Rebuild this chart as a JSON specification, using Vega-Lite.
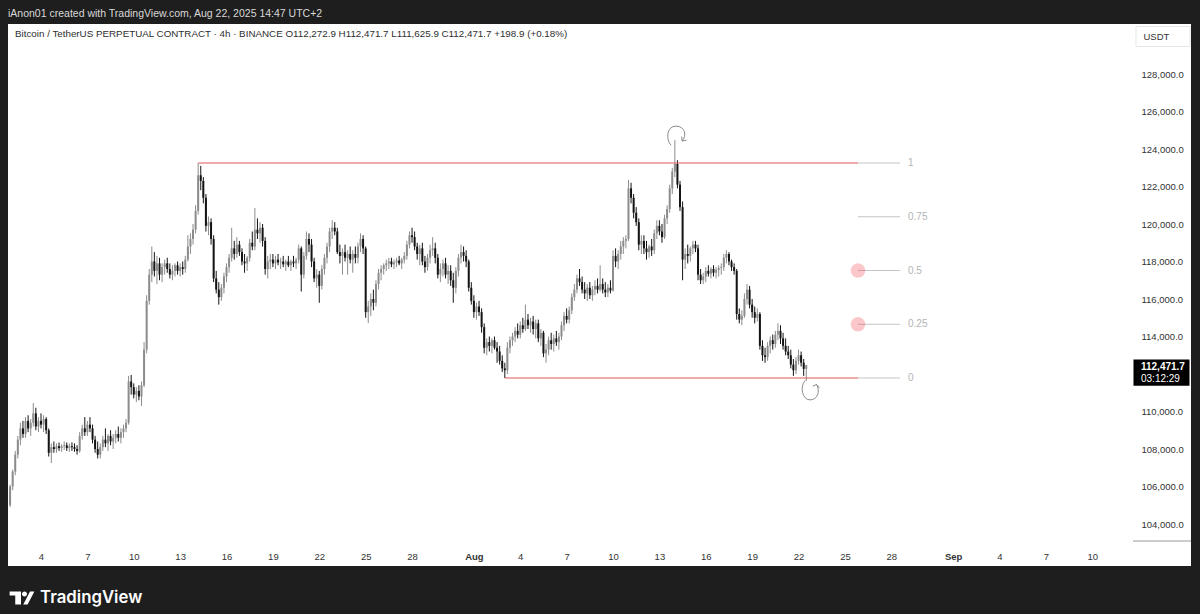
{
"$schema": "https://vega.github.io/schema/vega-lite/v6.json",
"width": 1183,
"height": 542,
"autosize": {"type": "none"},
"padding": {"left": 8, "top": 24, "right": 9, "bottom": 48},
"background": "#1e1e1e",
"config": {"view": {"fill": "#ffffff", "stroke": null}, "font": "Liberation Sans"},
"title": {"text": "iAnon01 created with TradingView.com, Aug 22, 2025 14:47 UTC+2", "anchor": "start", "frame": "group", "offset": 5, "fontSize": 10.5, "fontWeight": "normal", "color": "#d9d9d9", "font": "Liberation Sans"},
"datasets": {
"candles": [
{"t":"2025-07-02T00:00","o":105000,"h":106100,"l":104900,"c":106000},
{"t":"2025-07-02T04:00","o":106000,"h":106900,"l":105800,"c":106800},
{"t":"2025-07-02T08:00","o":106800,"h":107900,"l":106600,"c":107700},
{"t":"2025-07-02T12:00","o":107700,"h":108700,"l":107500,"c":108500},
{"t":"2025-07-02T16:00","o":108500,"h":109400,"l":108200,"c":109100},
{"t":"2025-07-02T20:00","o":109100,"h":109500,"l":108600,"c":108800},
{"t":"2025-07-03T00:00","o":108800,"h":109700,"l":108600,"c":109500},
{"t":"2025-07-03T04:00","o":109500,"h":109800,"l":108900,"c":109100},
{"t":"2025-07-03T08:00","o":109100,"h":109600,"l":108700,"c":109400},
{"t":"2025-07-03T12:00","o":109400,"h":110450,"l":109200,"c":109900},
{"t":"2025-07-03T16:00","o":109900,"h":110200,"l":109000,"c":109200},
{"t":"2025-07-03T20:00","o":109200,"h":109700,"l":108900,"c":109500},
{"t":"2025-07-04T00:00","o":109500,"h":109900,"l":109100,"c":109300},
{"t":"2025-07-04T04:00","o":109300,"h":109800,"l":108900,"c":109600},
{"t":"2025-07-04T08:00","o":109600,"h":109700,"l":108800,"c":109000},
{"t":"2025-07-04T12:00","o":109000,"h":109100,"l":107600,"c":107800},
{"t":"2025-07-04T16:00","o":107800,"h":108300,"l":107250,"c":108100},
{"t":"2025-07-04T20:00","o":108100,"h":108400,"l":107800,"c":108000},
{"t":"2025-07-05T00:00","o":108000,"h":108300,"l":107800,"c":108150},
{"t":"2025-07-05T04:00","o":108150,"h":108350,"l":107900,"c":108050},
{"t":"2025-07-05T08:00","o":108050,"h":108250,"l":107850,"c":108150},
{"t":"2025-07-05T12:00","o":108150,"h":108400,"l":107950,"c":108200},
{"t":"2025-07-05T16:00","o":108200,"h":108350,"l":107900,"c":108050},
{"t":"2025-07-05T20:00","o":108050,"h":108300,"l":107850,"c":108150},
{"t":"2025-07-06T00:00","o":108150,"h":108350,"l":107900,"c":108100},
{"t":"2025-07-06T04:00","o":108100,"h":108300,"l":107850,"c":108000},
{"t":"2025-07-06T08:00","o":108000,"h":108200,"l":107700,"c":107900},
{"t":"2025-07-06T12:00","o":107900,"h":108900,"l":107800,"c":108700},
{"t":"2025-07-06T16:00","o":108700,"h":109300,"l":108500,"c":109100},
{"t":"2025-07-06T20:00","o":109100,"h":109700,"l":108700,"c":108900},
{"t":"2025-07-07T00:00","o":108900,"h":109500,"l":108700,"c":109300},
{"t":"2025-07-07T04:00","o":109300,"h":109700,"l":108900,"c":109100},
{"t":"2025-07-07T08:00","o":109100,"h":109300,"l":108300,"c":108500},
{"t":"2025-07-07T12:00","o":108500,"h":108700,"l":107800,"c":108000},
{"t":"2025-07-07T16:00","o":108000,"h":108400,"l":107500,"c":107700},
{"t":"2025-07-07T20:00","o":107700,"h":108300,"l":107500,"c":108100},
{"t":"2025-07-08T00:00","o":108100,"h":108700,"l":107900,"c":108500},
{"t":"2025-07-08T04:00","o":108500,"h":109100,"l":108100,"c":108300},
{"t":"2025-07-08T08:00","o":108300,"h":108800,"l":107900,"c":108700},
{"t":"2025-07-08T12:00","o":108700,"h":109000,"l":108200,"c":108400},
{"t":"2025-07-08T16:00","o":108400,"h":108800,"l":108000,"c":108600},
{"t":"2025-07-08T20:00","o":108600,"h":109000,"l":108300,"c":108800},
{"t":"2025-07-09T00:00","o":108800,"h":109200,"l":108400,"c":108600},
{"t":"2025-07-09T04:00","o":108600,"h":109100,"l":108300,"c":108900},
{"t":"2025-07-09T08:00","o":108900,"h":109300,"l":108600,"c":109100},
{"t":"2025-07-09T12:00","o":109100,"h":109600,"l":108900,"c":109400},
{"t":"2025-07-09T16:00","o":109400,"h":111900,"l":109300,"c":111600},
{"t":"2025-07-09T20:00","o":111600,"h":111950,"l":110900,"c":111300},
{"t":"2025-07-10T00:00","o":111300,"h":111500,"l":110700,"c":110900},
{"t":"2025-07-10T04:00","o":110900,"h":111300,"l":110500,"c":111100},
{"t":"2025-07-10T08:00","o":111100,"h":111400,"l":110600,"c":110800},
{"t":"2025-07-10T12:00","o":110800,"h":111600,"l":110300,"c":111400},
{"t":"2025-07-10T16:00","o":111400,"h":113700,"l":111300,"c":113300},
{"t":"2025-07-10T20:00","o":113300,"h":116200,"l":113100,"c":115900},
{"t":"2025-07-11T00:00","o":115900,"h":117600,"l":115700,"c":117300},
{"t":"2025-07-11T04:00","o":117300,"h":118800,"l":116900,"c":118000},
{"t":"2025-07-11T08:00","o":118000,"h":118500,"l":117200,"c":117500},
{"t":"2025-07-11T12:00","o":117500,"h":118300,"l":116800,"c":117900},
{"t":"2025-07-11T16:00","o":117900,"h":118200,"l":117000,"c":117300},
{"t":"2025-07-11T20:00","o":117300,"h":117900,"l":116900,"c":117700},
{"t":"2025-07-12T00:00","o":117700,"h":118100,"l":117300,"c":117900},
{"t":"2025-07-12T04:00","o":117900,"h":118200,"l":117400,"c":117600},
{"t":"2025-07-12T08:00","o":117600,"h":117900,"l":117100,"c":117300},
{"t":"2025-07-12T12:00","o":117300,"h":117800,"l":117000,"c":117500},
{"t":"2025-07-12T16:00","o":117500,"h":117900,"l":117200,"c":117800},
{"t":"2025-07-12T20:00","o":117800,"h":118000,"l":117300,"c":117500},
{"t":"2025-07-13T00:00","o":117500,"h":117900,"l":117200,"c":117700},
{"t":"2025-07-13T04:00","o":117700,"h":118000,"l":117300,"c":117600},
{"t":"2025-07-13T08:00","o":117600,"h":118300,"l":117400,"c":118100},
{"t":"2025-07-13T12:00","o":118100,"h":119400,"l":118000,"c":118800},
{"t":"2025-07-13T16:00","o":118800,"h":119500,"l":118400,"c":119200},
{"t":"2025-07-13T20:00","o":119200,"h":120000,"l":118900,"c":119700},
{"t":"2025-07-14T00:00","o":119700,"h":121000,"l":119500,"c":120700},
{"t":"2025-07-14T04:00","o":120700,"h":123250,"l":120500,"c":122600},
{"t":"2025-07-14T08:00","o":122600,"h":123100,"l":121800,"c":122300},
{"t":"2025-07-14T12:00","o":122300,"h":122500,"l":121100,"c":121400},
{"t":"2025-07-14T16:00","o":121400,"h":121600,"l":119600,"c":119900},
{"t":"2025-07-14T20:00","o":119900,"h":120400,"l":119400,"c":120100},
{"t":"2025-07-15T00:00","o":120100,"h":120300,"l":118900,"c":119200},
{"t":"2025-07-15T04:00","o":119200,"h":119400,"l":116900,"c":117100},
{"t":"2025-07-15T08:00","o":117100,"h":117500,"l":116300,"c":116500},
{"t":"2025-07-15T12:00","o":116500,"h":116900,"l":115700,"c":116100},
{"t":"2025-07-15T16:00","o":116100,"h":116800,"l":115900,"c":116600},
{"t":"2025-07-15T20:00","o":116600,"h":117400,"l":116300,"c":117200},
{"t":"2025-07-16T00:00","o":117200,"h":117900,"l":116900,"c":117700},
{"t":"2025-07-16T04:00","o":117700,"h":118400,"l":117400,"c":118200},
{"t":"2025-07-16T08:00","o":118200,"h":119800,"l":118000,"c":118700},
{"t":"2025-07-16T12:00","o":118700,"h":119100,"l":118100,"c":118400},
{"t":"2025-07-16T16:00","o":118400,"h":119300,"l":118200,"c":118900},
{"t":"2025-07-16T20:00","o":118900,"h":119100,"l":118300,"c":118500},
{"t":"2025-07-17T00:00","o":118500,"h":118700,"l":117800,"c":118000},
{"t":"2025-07-17T04:00","o":118000,"h":118400,"l":117400,"c":117900},
{"t":"2025-07-17T08:00","o":117900,"h":118300,"l":117500,"c":118200},
{"t":"2025-07-17T12:00","o":118200,"h":119200,"l":118000,"c":119000},
{"t":"2025-07-17T16:00","o":119000,"h":119600,"l":118600,"c":118800},
{"t":"2025-07-17T20:00","o":118800,"h":120850,"l":118600,"c":119700},
{"t":"2025-07-18T00:00","o":119700,"h":120300,"l":119200,"c":119500},
{"t":"2025-07-18T04:00","o":119500,"h":120100,"l":119000,"c":119800},
{"t":"2025-07-18T08:00","o":119800,"h":120000,"l":118800,"c":119100},
{"t":"2025-07-18T12:00","o":119100,"h":119300,"l":117300,"c":117600},
{"t":"2025-07-18T16:00","o":117600,"h":118300,"l":117100,"c":118000},
{"t":"2025-07-18T20:00","o":118000,"h":118400,"l":117600,"c":118100},
{"t":"2025-07-19T00:00","o":118100,"h":118400,"l":117700,"c":117900},
{"t":"2025-07-19T04:00","o":117900,"h":118300,"l":117600,"c":118100},
{"t":"2025-07-19T08:00","o":118100,"h":118400,"l":117800,"c":117950},
{"t":"2025-07-19T12:00","o":117950,"h":118200,"l":117600,"c":118000},
{"t":"2025-07-19T16:00","o":118000,"h":118300,"l":117700,"c":117850},
{"t":"2025-07-19T20:00","o":117850,"h":118100,"l":117500,"c":118000},
{"t":"2025-07-20T00:00","o":118000,"h":118300,"l":117700,"c":117800},
{"t":"2025-07-20T04:00","o":117800,"h":118100,"l":117500,"c":118000},
{"t":"2025-07-20T08:00","o":118000,"h":118300,"l":117700,"c":117900},
{"t":"2025-07-20T12:00","o":117900,"h":118200,"l":117600,"c":118100},
{"t":"2025-07-20T16:00","o":118100,"h":118900,"l":117900,"c":118700},
{"t":"2025-07-20T20:00","o":118700,"h":118800,"l":116400,"c":117300},
{"t":"2025-07-21T00:00","o":117300,"h":118500,"l":117100,"c":118300},
{"t":"2025-07-21T04:00","o":118300,"h":119600,"l":118100,"c":119200},
{"t":"2025-07-21T08:00","o":119200,"h":119500,"l":118500,"c":118900},
{"t":"2025-07-21T12:00","o":118900,"h":119200,"l":117700,"c":118000},
{"t":"2025-07-21T16:00","o":118000,"h":118200,"l":116900,"c":117100},
{"t":"2025-07-21T20:00","o":117100,"h":117600,"l":116600,"c":117300},
{"t":"2025-07-22T00:00","o":117300,"h":117500,"l":115800,"c":116700},
{"t":"2025-07-22T04:00","o":116700,"h":117800,"l":116500,"c":117600},
{"t":"2025-07-22T08:00","o":117600,"h":118400,"l":117300,"c":118200},
{"t":"2025-07-22T12:00","o":118200,"h":119000,"l":117900,"c":118800},
{"t":"2025-07-22T16:00","o":118800,"h":119800,"l":118500,"c":119600},
{"t":"2025-07-22T20:00","o":119600,"h":120200,"l":119200,"c":119800},
{"t":"2025-07-23T00:00","o":119800,"h":120100,"l":119400,"c":119600},
{"t":"2025-07-23T04:00","o":119600,"h":119800,"l":118400,"c":118500},
{"t":"2025-07-23T08:00","o":118500,"h":118900,"l":117900,"c":118300},
{"t":"2025-07-23T12:00","o":118300,"h":118700,"l":117300,"c":118500},
{"t":"2025-07-23T16:00","o":118500,"h":118900,"l":118000,"c":118200},
{"t":"2025-07-23T20:00","o":118200,"h":118600,"l":117300,"c":118400},
{"t":"2025-07-24T00:00","o":118400,"h":118800,"l":117900,"c":118100},
{"t":"2025-07-24T04:00","o":118100,"h":118600,"l":117400,"c":118400},
{"t":"2025-07-24T08:00","o":118400,"h":118800,"l":117900,"c":118200},
{"t":"2025-07-24T12:00","o":118200,"h":119000,"l":117900,"c":118800},
{"t":"2025-07-24T16:00","o":118800,"h":119500,"l":118500,"c":119200},
{"t":"2025-07-24T20:00","o":119200,"h":119400,"l":118400,"c":118700},
{"t":"2025-07-25T00:00","o":118700,"h":118800,"l":115000,"c":115300},
{"t":"2025-07-25T04:00","o":115300,"h":115900,"l":114720,"c":115600},
{"t":"2025-07-25T08:00","o":115600,"h":116300,"l":115100,"c":116000},
{"t":"2025-07-25T12:00","o":116000,"h":116500,"l":115400,"c":115800},
{"t":"2025-07-25T16:00","o":115800,"h":117000,"l":115600,"c":116800},
{"t":"2025-07-25T20:00","o":116800,"h":117600,"l":116500,"c":117400},
{"t":"2025-07-26T00:00","o":117400,"h":117800,"l":117000,"c":117600},
{"t":"2025-07-26T04:00","o":117600,"h":117900,"l":117300,"c":117800},
{"t":"2025-07-26T08:00","o":117800,"h":118100,"l":117500,"c":117900},
{"t":"2025-07-26T12:00","o":117900,"h":118200,"l":117600,"c":118000},
{"t":"2025-07-26T16:00","o":118000,"h":118200,"l":117700,"c":117850},
{"t":"2025-07-26T20:00","o":117850,"h":118100,"l":117600,"c":117950},
{"t":"2025-07-27T00:00","o":117950,"h":118200,"l":117700,"c":118050},
{"t":"2025-07-27T04:00","o":118050,"h":118300,"l":117800,"c":117900},
{"t":"2025-07-27T08:00","o":117900,"h":118200,"l":117600,"c":118100},
{"t":"2025-07-27T12:00","o":118100,"h":118500,"l":117900,"c":118300},
{"t":"2025-07-27T16:00","o":118300,"h":119100,"l":118100,"c":118900},
{"t":"2025-07-27T20:00","o":118900,"h":119600,"l":118700,"c":119400},
{"t":"2025-07-28T00:00","o":119400,"h":119800,"l":119000,"c":119300},
{"t":"2025-07-28T04:00","o":119300,"h":119600,"l":118600,"c":118800},
{"t":"2025-07-28T08:00","o":118800,"h":119000,"l":118100,"c":118400},
{"t":"2025-07-28T12:00","o":118400,"h":118900,"l":117800,"c":118700},
{"t":"2025-07-28T16:00","o":118700,"h":119000,"l":117800,"c":118000},
{"t":"2025-07-28T20:00","o":118000,"h":118300,"l":117400,"c":117700},
{"t":"2025-07-29T00:00","o":117700,"h":118400,"l":117500,"c":118200},
{"t":"2025-07-29T04:00","o":118200,"h":118900,"l":117900,"c":118600},
{"t":"2025-07-29T08:00","o":118600,"h":119300,"l":118300,"c":118700},
{"t":"2025-07-29T12:00","o":118700,"h":119000,"l":117900,"c":118200},
{"t":"2025-07-29T16:00","o":118200,"h":118400,"l":117100,"c":117300},
{"t":"2025-07-29T20:00","o":117300,"h":117900,"l":116900,"c":117600},
{"t":"2025-07-30T00:00","o":117600,"h":118100,"l":117200,"c":117900},
{"t":"2025-07-30T04:00","o":117900,"h":118200,"l":117100,"c":117300},
{"t":"2025-07-30T08:00","o":117300,"h":117800,"l":116800,"c":117500},
{"t":"2025-07-30T12:00","o":117500,"h":117800,"l":116700,"c":117000},
{"t":"2025-07-30T16:00","o":117000,"h":117400,"l":115800,"c":116600},
{"t":"2025-07-30T20:00","o":116600,"h":117700,"l":116300,"c":117500},
{"t":"2025-07-31T00:00","o":117500,"h":118400,"l":117200,"c":118200},
{"t":"2025-07-31T04:00","o":118200,"h":118900,"l":117900,"c":118500},
{"t":"2025-07-31T08:00","o":118500,"h":118800,"l":118000,"c":118300},
{"t":"2025-07-31T12:00","o":118300,"h":118600,"l":117700,"c":118000},
{"t":"2025-07-31T16:00","o":118000,"h":118100,"l":116400,"c":116600},
{"t":"2025-07-31T20:00","o":116600,"h":116900,"l":115700,"c":115900},
{"t":"2025-08-01T00:00","o":115900,"h":116200,"l":115000,"c":115300},
{"t":"2025-08-01T04:00","o":115300,"h":115800,"l":114900,"c":115600},
{"t":"2025-08-01T08:00","o":115600,"h":115900,"l":115100,"c":115300},
{"t":"2025-08-01T12:00","o":115300,"h":115500,"l":114200,"c":114500},
{"t":"2025-08-01T16:00","o":114500,"h":114700,"l":113100,"c":113400},
{"t":"2025-08-01T20:00","o":113400,"h":113900,"l":113000,"c":113700},
{"t":"2025-08-02T00:00","o":113700,"h":114000,"l":113200,"c":113500},
{"t":"2025-08-02T04:00","o":113500,"h":113900,"l":113100,"c":113800},
{"t":"2025-08-02T08:00","o":113800,"h":114000,"l":113300,"c":113400},
{"t":"2025-08-02T12:00","o":113400,"h":113700,"l":112600,"c":113200},
{"t":"2025-08-02T16:00","o":113200,"h":113500,"l":112500,"c":112700},
{"t":"2025-08-02T20:00","o":112700,"h":113000,"l":112100,"c":112300},
{"t":"2025-08-03T00:00","o":112300,"h":112600,"l":111787,"c":112200},
{"t":"2025-08-03T04:00","o":112200,"h":113700,"l":112000,"c":113400},
{"t":"2025-08-03T08:00","o":113400,"h":114000,"l":113100,"c":113800},
{"t":"2025-08-03T12:00","o":113800,"h":114200,"l":113500,"c":114000},
{"t":"2025-08-03T16:00","o":114000,"h":114500,"l":113700,"c":114300},
{"t":"2025-08-03T20:00","o":114300,"h":114700,"l":113900,"c":114100},
{"t":"2025-08-04T00:00","o":114100,"h":114800,"l":113900,"c":114600},
{"t":"2025-08-04T04:00","o":114600,"h":115000,"l":114200,"c":114400},
{"t":"2025-08-04T08:00","o":114400,"h":115700,"l":114300,"c":114900},
{"t":"2025-08-04T12:00","o":114900,"h":115200,"l":114400,"c":114600},
{"t":"2025-08-04T16:00","o":114600,"h":115000,"l":114200,"c":114800},
{"t":"2025-08-04T20:00","o":114800,"h":115100,"l":114100,"c":114400},
{"t":"2025-08-05T00:00","o":114400,"h":114900,"l":113900,"c":114700},
{"t":"2025-08-05T04:00","o":114700,"h":114900,"l":113700,"c":113900},
{"t":"2025-08-05T08:00","o":113900,"h":114400,"l":113500,"c":114200},
{"t":"2025-08-05T12:00","o":114200,"h":114300,"l":112900,"c":113100},
{"t":"2025-08-05T16:00","o":113100,"h":113600,"l":112600,"c":113300},
{"t":"2025-08-05T20:00","o":113300,"h":114000,"l":113000,"c":113800},
{"t":"2025-08-06T00:00","o":113800,"h":114200,"l":113300,"c":113600},
{"t":"2025-08-06T04:00","o":113600,"h":114100,"l":113200,"c":113900},
{"t":"2025-08-06T08:00","o":113900,"h":114300,"l":113500,"c":113700},
{"t":"2025-08-06T12:00","o":113700,"h":114200,"l":113300,"c":114000},
{"t":"2025-08-06T16:00","o":114000,"h":114800,"l":113800,"c":114600},
{"t":"2025-08-06T20:00","o":114600,"h":115300,"l":114300,"c":115100},
{"t":"2025-08-07T00:00","o":115100,"h":115500,"l":114700,"c":114900},
{"t":"2025-08-07T04:00","o":114900,"h":115600,"l":114700,"c":115400},
{"t":"2025-08-07T08:00","o":115400,"h":116300,"l":115200,"c":116100},
{"t":"2025-08-07T12:00","o":116100,"h":116800,"l":115900,"c":116500},
{"t":"2025-08-07T16:00","o":116500,"h":117300,"l":116300,"c":117100},
{"t":"2025-08-07T20:00","o":117100,"h":117600,"l":116700,"c":116900},
{"t":"2025-08-08T00:00","o":116900,"h":117200,"l":116300,"c":116500},
{"t":"2025-08-08T04:00","o":116500,"h":116900,"l":116000,"c":116300},
{"t":"2025-08-08T08:00","o":116300,"h":116800,"l":115900,"c":116600},
{"t":"2025-08-08T12:00","o":116600,"h":116900,"l":116000,"c":116200},
{"t":"2025-08-08T16:00","o":116200,"h":116700,"l":115900,"c":116500},
{"t":"2025-08-08T20:00","o":116500,"h":117000,"l":116200,"c":116700},
{"t":"2025-08-09T00:00","o":116700,"h":117100,"l":116300,"c":116500},
{"t":"2025-08-09T04:00","o":116500,"h":117800,"l":116400,"c":116800},
{"t":"2025-08-09T08:00","o":116800,"h":117100,"l":116300,"c":116500},
{"t":"2025-08-09T12:00","o":116500,"h":116900,"l":116100,"c":116350},
{"t":"2025-08-09T16:00","o":116350,"h":116800,"l":116100,"c":116600},
{"t":"2025-08-09T20:00","o":116600,"h":117000,"l":116300,"c":116450},
{"t":"2025-08-10T00:00","o":116450,"h":118600,"l":116400,"c":118300},
{"t":"2025-08-10T04:00","o":118300,"h":118700,"l":117700,"c":118000},
{"t":"2025-08-10T08:00","o":118000,"h":118600,"l":117600,"c":118400},
{"t":"2025-08-10T12:00","o":118400,"h":119100,"l":118100,"c":118800},
{"t":"2025-08-10T16:00","o":118800,"h":119300,"l":118400,"c":119100},
{"t":"2025-08-10T20:00","o":119100,"h":119400,"l":118700,"c":119200},
{"t":"2025-08-11T00:00","o":119200,"h":122350,"l":119100,"c":121900},
{"t":"2025-08-11T04:00","o":121900,"h":122200,"l":121100,"c":121400},
{"t":"2025-08-11T08:00","o":121400,"h":121600,"l":120300,"c":120600},
{"t":"2025-08-11T12:00","o":120600,"h":120900,"l":119900,"c":120100},
{"t":"2025-08-11T16:00","o":120100,"h":120300,"l":118600,"c":118900},
{"t":"2025-08-11T20:00","o":118900,"h":119400,"l":118400,"c":119100},
{"t":"2025-08-12T00:00","o":119100,"h":119400,"l":118400,"c":118700},
{"t":"2025-08-12T04:00","o":118700,"h":119100,"l":118100,"c":118500},
{"t":"2025-08-12T08:00","o":118500,"h":118900,"l":118200,"c":118800},
{"t":"2025-08-12T12:00","o":118800,"h":119200,"l":118300,"c":118600},
{"t":"2025-08-12T16:00","o":118600,"h":119700,"l":118400,"c":119500},
{"t":"2025-08-12T20:00","o":119500,"h":120200,"l":119200,"c":119900},
{"t":"2025-08-13T00:00","o":119900,"h":120200,"l":119400,"c":119600},
{"t":"2025-08-13T04:00","o":119600,"h":120000,"l":119000,"c":119300},
{"t":"2025-08-13T08:00","o":119300,"h":120500,"l":119200,"c":120300},
{"t":"2025-08-13T12:00","o":120300,"h":121000,"l":120000,"c":120800},
{"t":"2025-08-13T16:00","o":120800,"h":122100,"l":120600,"c":121900},
{"t":"2025-08-13T20:00","o":121900,"h":123000,"l":121600,"c":122800},
{"t":"2025-08-14T00:00","o":122800,"h":124474,"l":122500,"c":123200},
{"t":"2025-08-14T04:00","o":123200,"h":123400,"l":121900,"c":122100},
{"t":"2025-08-14T08:00","o":122100,"h":122300,"l":120700,"c":120900},
{"t":"2025-08-14T12:00","o":120900,"h":121200,"l":117000,"c":118100},
{"t":"2025-08-14T16:00","o":118100,"h":118700,"l":117600,"c":118400},
{"t":"2025-08-14T20:00","o":118400,"h":118900,"l":117900,"c":118300},
{"t":"2025-08-15T00:00","o":118300,"h":118800,"l":118000,"c":118700},
{"t":"2025-08-15T04:00","o":118700,"h":119100,"l":118400,"c":118900},
{"t":"2025-08-15T08:00","o":118900,"h":119100,"l":118500,"c":118700},
{"t":"2025-08-15T12:00","o":118700,"h":118900,"l":117000,"c":117300},
{"t":"2025-08-15T16:00","o":117300,"h":117600,"l":116800,"c":117000},
{"t":"2025-08-15T20:00","o":117000,"h":117400,"l":116800,"c":117200},
{"t":"2025-08-16T00:00","o":117200,"h":117700,"l":116900,"c":117500},
{"t":"2025-08-16T04:00","o":117500,"h":117800,"l":117200,"c":117350},
{"t":"2025-08-16T08:00","o":117350,"h":117700,"l":117100,"c":117600},
{"t":"2025-08-16T12:00","o":117600,"h":117800,"l":117200,"c":117400},
{"t":"2025-08-16T16:00","o":117400,"h":117700,"l":117100,"c":117550},
{"t":"2025-08-16T20:00","o":117550,"h":117800,"l":117200,"c":117650},
{"t":"2025-08-17T00:00","o":117650,"h":117900,"l":117300,"c":117700},
{"t":"2025-08-17T04:00","o":117700,"h":118400,"l":117500,"c":118200},
{"t":"2025-08-17T08:00","o":118200,"h":118600,"l":117900,"c":118400},
{"t":"2025-08-17T12:00","o":118400,"h":118500,"l":117800,"c":118000},
{"t":"2025-08-17T16:00","o":118000,"h":118100,"l":117500,"c":117700},
{"t":"2025-08-17T20:00","o":117700,"h":117900,"l":117300,"c":117500},
{"t":"2025-08-18T00:00","o":117500,"h":117600,"l":114900,"c":115200},
{"t":"2025-08-18T04:00","o":115200,"h":115500,"l":114700,"c":114900},
{"t":"2025-08-18T08:00","o":114900,"h":115400,"l":114600,"c":115100},
{"t":"2025-08-18T12:00","o":115100,"h":116300,"l":115000,"c":116000},
{"t":"2025-08-18T16:00","o":116000,"h":116800,"l":115700,"c":116500},
{"t":"2025-08-18T20:00","o":116500,"h":116700,"l":115500,"c":115700},
{"t":"2025-08-19T00:00","o":115700,"h":116000,"l":115000,"c":115300},
{"t":"2025-08-19T04:00","o":115300,"h":115600,"l":114700,"c":115000},
{"t":"2025-08-19T08:00","o":115000,"h":115500,"l":114800,"c":115200},
{"t":"2025-08-19T12:00","o":115200,"h":115300,"l":113300,"c":113500},
{"t":"2025-08-19T16:00","o":113500,"h":113800,"l":112700,"c":113000},
{"t":"2025-08-19T20:00","o":113000,"h":113400,"l":112600,"c":112900},
{"t":"2025-08-20T00:00","o":112900,"h":113700,"l":112700,"c":113500},
{"t":"2025-08-20T04:00","o":113500,"h":114000,"l":113100,"c":113800},
{"t":"2025-08-20T08:00","o":113800,"h":114100,"l":113300,"c":113600},
{"t":"2025-08-20T12:00","o":113600,"h":114300,"l":113400,"c":114100},
{"t":"2025-08-20T16:00","o":114100,"h":114700,"l":113800,"c":114300},
{"t":"2025-08-20T20:00","o":114300,"h":114600,"l":113600,"c":113900},
{"t":"2025-08-21T00:00","o":113900,"h":114200,"l":113300,"c":113500},
{"t":"2025-08-21T04:00","o":113500,"h":113900,"l":113000,"c":113200},
{"t":"2025-08-21T08:00","o":113200,"h":113500,"l":112800,"c":113000},
{"t":"2025-08-21T12:00","o":113000,"h":113300,"l":112300,"c":112500},
{"t":"2025-08-21T16:00","o":112500,"h":112800,"l":111900,"c":112200},
{"t":"2025-08-21T20:00","o":112200,"h":112900,"l":112000,"c":112700},
{"t":"2025-08-22T00:00","o":112700,"h":113300,"l":112500,"c":113000},
{"t":"2025-08-22T04:00","o":113000,"h":113200,"l":112400,"c":112600},
{"t":"2025-08-22T08:00","o":112600,"h":112800,"l":111900,"c":112273},
{"t":"2025-08-22T12:00","o":112272.9,"h":112471.7,"l":111625.9,"c":112471.7}
],
"fib": [
{"lv":"1","p":123253},
{"lv":"0.75","p":120387},
{"lv":"0.5","p":117520},
{"lv":"0.25","p":114653},
{"lv":"0","p":111787}
],
"range": [
{"from":"2025-07-14T04:00","p":123253},
{"from":"2025-08-03T00:00","p":111787}
]
},
"layer": [
{
"data": {"name": "candles"},
"mark": {"type": "rule", "strokeWidth": 1},
"encoding": {
"x": {"field": "t", "type": "temporal",
"scale": {"domain": [{"year":2025,"month":7,"date":1,"hours":20,"minutes":46},{"year":2025,"month":9,"date":16,"hours":9,"minutes":16}], "nice": false, "padding": 0},
"axis": {"orient": "bottom", "offset": -10, "title": null, "grid": false, "domain": false, "ticks": false, "tickSize": 0, "labelPadding": 0, "labelBaseline": "middle", "labelFontSize": 9.5, "labelColor": "#333333", "labelFont": "Liberation Sans", "labelOverlap": false, "labelFlush": false,
"values": [{"year":2025,"month":7,"date":4},{"year":2025,"month":7,"date":7},{"year":2025,"month":7,"date":10},{"year":2025,"month":7,"date":13},{"year":2025,"month":7,"date":16},{"year":2025,"month":7,"date":19},{"year":2025,"month":7,"date":22},{"year":2025,"month":7,"date":25},{"year":2025,"month":7,"date":28},{"year":2025,"month":8,"date":1},{"year":2025,"month":8,"date":4},{"year":2025,"month":8,"date":7},{"year":2025,"month":8,"date":10},{"year":2025,"month":8,"date":13},{"year":2025,"month":8,"date":16},{"year":2025,"month":8,"date":19},{"year":2025,"month":8,"date":22},{"year":2025,"month":8,"date":25},{"year":2025,"month":8,"date":28},{"year":2025,"month":9,"date":1},{"year":2025,"month":9,"date":4},{"year":2025,"month":9,"date":7},{"year":2025,"month":9,"date":10}],
"labelExpr": "date(datum.value) == 1 ? timeFormat(datum.value, '%b') : '' + date(datum.value)",
"labelFontWeight": {"condition": {"test": "date(datum.value) == 1", "value": "bold"}, "value": "normal"}}},
"y": {"field": "l", "type": "quantitative",
"scale": {"domain": [101760, 130667], "zero": false, "nice": false, "padding": 0},
"axis": {"orient": "right", "offset": -58, "grid": false, "domain": false, "ticks": false, "tickSize": 0, "labelPadding": 8, "labelFontSize": 9.5, "labelColor": "#333333", "labelFont": "Liberation Sans", "format": ",.1f", "labelOverlap": false,
"values": [104000,106000,108000,110000,114000,116000,118000,120000,122000,124000,126000,128000],
"title": "USDT", "titleAngle": 0, "titleX": 10, "titleY": 12.5, "titleAlign": "left", "titleBaseline": "middle", "titleFontWeight": "normal", "titleFontSize": 9.5, "titleColor": "#333333", "titleFont": "Liberation Sans"}},
"y2": {"field": "h"},
"color": {"condition": {"test": "datum.c >= datum.o", "value": "#8c8c8c"}, "value": "#141414"}
}
},
{
"data": {"name": "candles"},
"mark": {"type": "bar", "width": 2},
"encoding": {
"x": {"field": "t", "type": "temporal"},
"y": {"field": "o", "type": "quantitative"},
"y2": {"field": "c"},
"color": {"condition": {"test": "datum.c >= datum.o", "value": "#8c8c8c"}, "value": "#141414"}
}
},
{
"data": {"name": "range"},
"mark": {"type": "rule", "color": "#e05858", "strokeWidth": 1},
"encoding": {
"x": {"field": "from", "type": "temporal"},
"x2": {"datum": {"year":2025,"month":8,"date":25,"hours":20,"minutes":18}},
"y": {"field": "p", "type": "quantitative"}
}
},
{
"data": {"name": "fib"},
"mark": {"type": "rule", "color": "#c4c4c4", "strokeWidth": 1},
"encoding": {
"x": {"datum": {"year":2025,"month":8,"date":25,"hours":20,"minutes":18}},
"x2": {"datum": {"year":2025,"month":8,"date":28,"hours":13,"minutes":30}},
"y": {"field": "p", "type": "quantitative"}
}
},
{
"data": {"name": "fib"},
"mark": {"type": "text", "align": "left", "baseline": "middle", "fontSize": 10, "color": "#b4b4b4", "font": "Liberation Sans"},
"encoding": {
"x": {"datum": {"year":2025,"month":8,"date":29,"hours":1,"minutes":55}},
"y": {"field": "p", "type": "quantitative"},
"text": {"field": "lv"}
}
},
{
"data": {"name": "fib"},
"transform": [{"filter": "datum.lv == '0.5' || datum.lv == '0.25'"}],
"mark": {"type": "point", "shape": "circle", "filled": true, "size": 210, "color": "#f23645", "opacity": 0.28},
"encoding": {
"x": {"datum": {"year":2025,"month":8,"date":25,"hours":20,"minutes":18}},
"y": {"field": "p", "type": "quantitative"}
}
},
{
"data": {"values": [{"p": 124693}]},
"mark": {"type": "point", "filled": false, "stroke": "#8a8a8a", "strokeWidth": 1, "size": 484, "opacity": 1,
"shape": "M-0.45,0.85C-0.95,0.3,-0.85,-0.9,0,-0.9C0.85,-0.9,1,0,0.55,0.45M0.55,0.45L0.95,0.38M0.55,0.45L0.52,0.05"},
"encoding": {
"x": {"datum": {"year":2025,"month":8,"date":14,"hours":1,"minutes":47}},
"y": {"field": "p", "type": "quantitative"}
}
},
{
"data": {"values": [{"p": 111147}]},
"mark": {"type": "point", "filled": false, "stroke": "#8a8a8a", "strokeWidth": 1, "size": 484, "opacity": 1,
"shape": "M-0.45,-0.85C-0.95,-0.3,-0.7,0.9,0,0.9C0.7,0.9,0.95,0.1,0.6,-0.5M0.6,-0.5L0.25,-0.35M0.6,-0.5L0.85,-0.2"},
"encoding": {
"x": {"datum": {"year":2025,"month":8,"date":22,"hours":17,"minutes":47}},
"y": {"field": "p", "type": "quantitative"}
}
},
{
"data": {"values": [{"s": "Bitcoin / TetherUS PERPETUAL CONTRACT · 4h · BINANCE  O112,272.9  H112,471.7  L111,625.9  C112,471.7  +198.9 (+0.18%)"}]},
"mark": {"type": "text", "align": "left", "baseline": "middle", "fontSize": 9.8, "color": "#2e2e2e", "font": "Liberation Sans"},
"encoding": {
"x": {"datum": {"year":2025,"month":7,"date":2,"hours":7,"minutes":38}},
"y": {"datum": 130133},
"text": {"field": "s"}
}
},
{
"data": {"values": [{"p": 130000}]},
"mark": {"type": "point", "filled": false, "stroke": "#e6e6e6", "strokeWidth": 1, "size": 2916, "opacity": 1, "shape": "M-1,-0.37H1V0.37H-1Z"},
"encoding": {
"x": {"datum": {"year":2025,"month":9,"date":14,"hours":13,"minutes":46}},
"y": {"field": "p", "type": "quantitative"}
}
},
{
"data": {"values": [{"p": 103093}]},
"mark": {"type": "rule", "color": "#9a9a9a", "strokeWidth": 1},
"encoding": {
"x": {"datum": {"year":2025,"month":9,"date":12,"hours":15,"minutes":13}},
"x2": {"datum": {"year":2025,"month":9,"date":16,"hours":9,"minutes":16}},
"y": {"field": "p", "type": "quantitative"}
}
},
{
"data": {"values": [{"price": 112471.7, "cd": "03:12:29"}]},
"mark": {"type": "point", "filled": true, "color": "#000000", "opacity": 1, "size": 3136, "yOffset": 7.5, "shape": "M-1,-0.47H1V0.47H-1Z"},
"encoding": {
"x": {"datum": {"year":2025,"month":9,"date":14,"hours":11,"minutes":27}},
"y": {"field": "price", "type": "quantitative"}
}
},
{
"data": {"values": [{"price": 112471.7, "cd": "03:12:29"}]},
"mark": {"type": "text", "align": "left", "baseline": "middle", "fontSize": 10, "fontWeight": "bold", "color": "#ffffff", "dy": 2.3, "font": "Liberation Sans"},
"encoding": {
"x": {"datum": {"year":2025,"month":9,"date":13,"hours":3,"minutes":38}},
"y": {"field": "price", "type": "quantitative"},
"text": {"field": "price", "format": ",.1f"}
}
},
{
"data": {"values": [{"price": 112471.7, "cd": "03:12:29"}]},
"mark": {"type": "text", "align": "left", "baseline": "middle", "fontSize": 10, "color": "#ffffff", "dy": 13.5, "font": "Liberation Sans"},
"encoding": {
"x": {"datum": {"year":2025,"month":9,"date":13,"hours":3,"minutes":38}},
"y": {"field": "price", "type": "quantitative"},
"text": {"field": "cd"}
}
},
{
"data": {"values": [{"p": 100053}]},
"mark": {"type": "point", "filled": true, "color": "#ffffff", "opacity": 1, "size": 625,
"shape": "M-0.99,-0.52H-0.08V0.52H-0.54V-0.2H-0.99Z M0,-0.32A0.2,0.2,0,1,0,0.4,-0.32A0.2,0.2,0,1,0,0,-0.32Z M0.1,0.52H0.45L0.99,-0.52H0.64Z"},
"encoding": {
"x": {"datum": {"year":2025,"month":7,"date":2,"hours":18,"minutes":30}},
"y": {"field": "p", "type": "quantitative"}
}
},
{
"data": {"values": [{"p": 100053, "s": "TradingView"}]},
"mark": {"type": "text", "align": "left", "baseline": "middle", "fontSize": 16.8, "fontWeight": 600, "color": "#ffffff", "font": "Inter"},
"encoding": {
"x": {"datum": {"year":2025,"month":7,"date":3,"hours":22,"minutes":27}},
"y": {"field": "p", "type": "quantitative"},
"text": {"field": "s"}
}
}
]
}
